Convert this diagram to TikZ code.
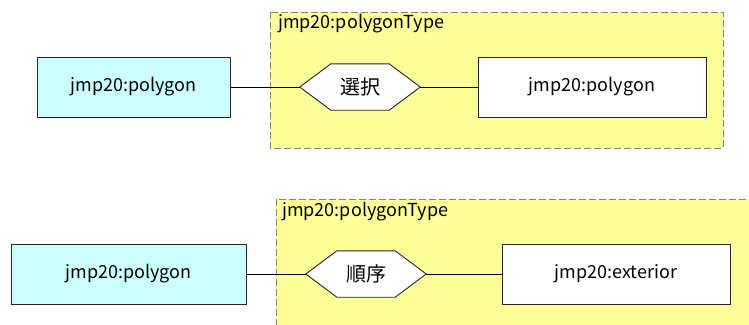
\documentclass[tikz,border=0pt]{standalone}
\usepackage{fontspec}
\setmainfont{Noto Sans CJK JP}
\usetikzlibrary{calc}
\definecolor{rootfill}{HTML}{CCFFFF}
\definecolor{grpfill}{HTML}{FFFF99}
\definecolor{grpline}{HTML}{808080}
\pgfdeclarelayer{back}
\pgfdeclarelayer{background}
\pgfsetlayers{back,background,main}
\begin{document}
\begin{tikzpicture}[x=1pt,y=-1pt,
  every node/.style={font=\fontsize{18}{21}\selectfont, inner sep=0pt},
  elem/.style={draw=black!85, line width=0.9pt, fill=white, minimum width=228pt, minimum height=60pt},
  rootbox/.style={draw=black!85, line width=0.9pt, fill=rootfill, minimum height=60pt},
  grp/.style={draw=grpline, line width=0.9pt, dash pattern=on 7pt off 3pt, fill=grpfill},
  hexbox/.style={minimum width=120pt, minimum height=46pt, font=\fontsize{20}{22}\selectfont},
  hexshape/.style={draw=black!85, line width=0.9pt, fill=white},
  conn/.style={draw=black, line width=0.9pt},
  grplabel/.style={anchor=base west}
]
\useasboundingbox (0,0) rectangle (749,324);
\clip (0,0) rectangle (749,324);

\begin{pgfonlayer}{back}
\draw[grp] (270,12) rectangle (723,148);
\draw[grp] (276,199) rectangle (760,340);
\end{pgfonlayer}

% ---- top diagram ----
\node[grplabel] (lab1) at (278,28) {jmp20:polygonType};
\node[rootbox, minimum width=193pt] (r1) at (133.5,87) {jmp20:polygon};
\node[hexbox] (h1) at (360,87) {選択};
\node[elem] (e1) at (592,87) {jmp20:polygon};

% ---- bottom diagram ----
\node[grplabel] (lab2) at (282,216) {jmp20:polygonType};
\node[rootbox, minimum width=235pt] (r2) at (128.5,274) {jmp20:polygon};
\node[hexbox] (h2) at (366,274) {順序};
\node[elem] (e2) at (616,274) {jmp20:exterior};

\begin{pgfonlayer}{background}
\foreach \h in {h1,h2}{
  \draw[hexshape] (\h.west) -- ($(\h.north west)+(31,0)$) -- ($(\h.north east)+(-31,0)$)
    -- (\h.east) -- ($(\h.south east)+(-31,0)$) -- ($(\h.south west)+(31,0)$) -- cycle;
}
\end{pgfonlayer}

\draw[conn] (r1.east) -- (h1.west);
\draw[conn] (h1.east) -- (e1.west);
\draw[conn] (r2.east) -- (h2.west);
\draw[conn] (h2.east) -- (e2.west);
\end{tikzpicture}
\end{document}
